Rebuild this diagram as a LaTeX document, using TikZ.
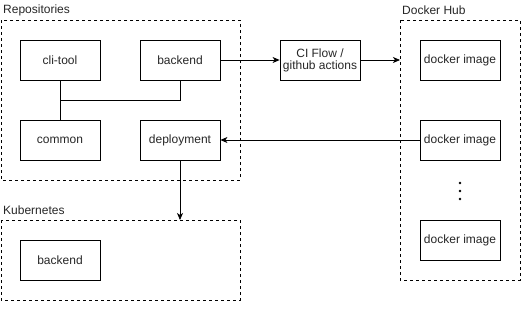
\documentclass[tikz,border=0pt]{standalone}
\usepackage{fontspec}
\setmainfont{Liberation Sans}
\usetikzlibrary{arrows.meta}
\begin{document}
\begin{tikzpicture}[x=1pt,y=-1pt,
  font=\fontsize{12}{14}\selectfont,
  group/.style={draw, dash pattern=on 3pt off 3pt, line width=0.8pt},
  item/.style={draw, line width=0.8pt, minimum width=80pt, minimum height=40pt, inner sep=0pt, align=center, text=black!85},
  caption/.style={anchor=west, inner sep=0pt, text=black!85},
  link/.style={line width=0.8pt},
  flow/.style={line width=0.8pt, -{Stealth[length=7pt,width=6pt,inset=2pt]}}]
\useasboundingbox (0,0) rectangle (521,309);

% containers
\draw[group] (1,20) rectangle (240,180);
\node[caption] (lrepo) at (3,10) {Repositories};
\draw[group] (1,220) rectangle (240,300);
\node[caption] (lkube) at (3,210) {Kubernetes};
\draw[group] (400,20) rectangle (520,280);
\node[caption] (lhub) at (402,10) {Docker Hub};
\coordinate (hubin) at (400,60);
\coordinate (kubein) at (180,220);

% repositories
\node[item] (cli) at (60,60) {cli-tool};
\node[item] (back) at (180,60) {backend};
\node[item] (common) at (60,140) {common};
\node[item] (deploy) at (180,140) {deployment};

% kubernetes
\node[item] (kback) at (60,260) {backend};

% CI
\node[item] (ci) at (320,60) {CI Flow /\\[-2pt]github actions};

% docker hub
\node[item] (img1) at (460,60) {docker image};
\node[item] (img2) at (460,140) {docker image};
\node[item] (img3) at (460,240) {docker image};
\foreach \yy in {183,191,199} \fill (460,\yy) circle (1.3pt);

% connectors
\draw[link] (cli.south) -- (common.north);
\draw[link] (back.south) |- (60,100);
\draw[flow] (back.east) -- (ci.west);
\draw[flow] (ci.east) -- (hubin);
\draw[flow] (img2.west) -- (deploy.east);
\draw[flow] (deploy.south) -- (kubein);
\end{tikzpicture}
\end{document}
